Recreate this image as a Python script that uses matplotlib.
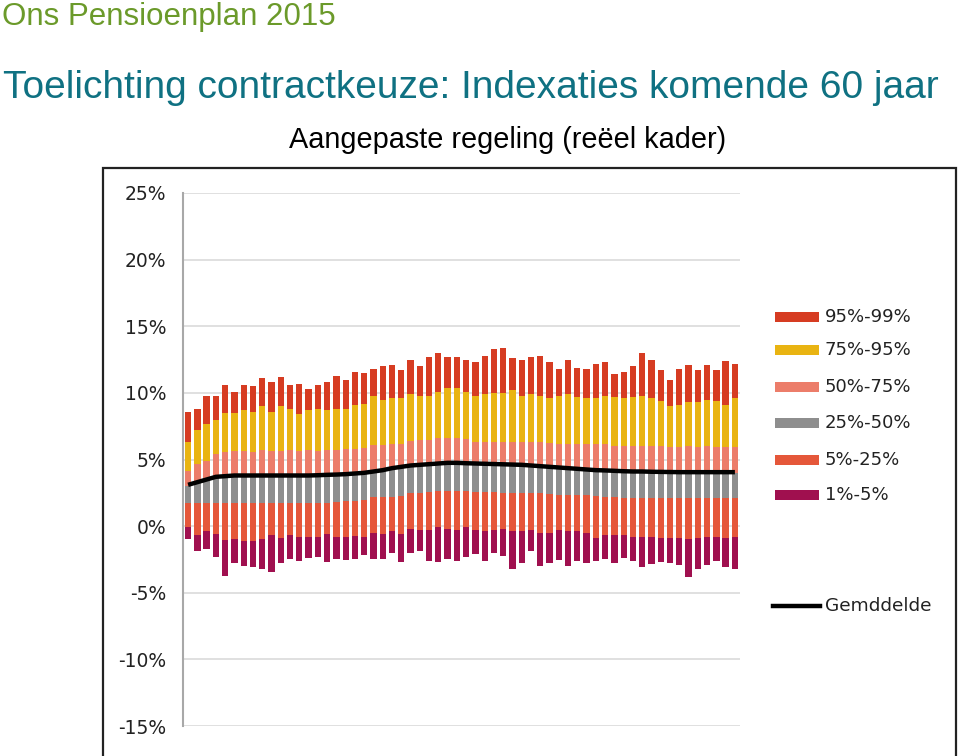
import numpy as np
import matplotlib
matplotlib.use("Agg")
import matplotlib.pyplot as plt
from matplotlib.patches import Rectangle
from matplotlib.lines import Line2D

# ---- data (percent), 60 years ----
years = list(range(1, 61))
p99 = [8.6, 8.8, 9.8, 9.8, 10.6, 10.1, 10.6, 10.5, 11.1, 10.8,
       11.2, 10.6, 10.7, 10.3, 10.6, 10.8, 11.3, 11.0, 11.6, 11.5,
       11.8, 12.0, 12.1, 11.7, 12.5, 12.0, 12.7, 13.0, 12.7, 12.7,
       12.5, 12.3, 12.8, 13.3, 13.4, 12.6, 12.5, 12.7, 12.8, 12.3,
       11.8, 12.5, 11.9, 11.8, 12.2, 12.3, 11.4, 11.6, 12.0, 13.0,
       12.5, 11.7, 11.0, 11.8, 12.1, 11.7, 12.1, 11.7, 12.4, 12.2]
p95 = [6.3, 7.2, 7.7, 8.0, 8.5, 8.5, 8.7, 8.6, 9.0, 8.6,
       9.0, 8.8, 8.4, 8.7, 8.8, 8.7, 8.8, 8.8, 9.1, 9.2,
       9.8, 9.5, 9.6, 9.6, 9.9, 9.8, 9.8, 10.1, 10.4, 10.4,
       10.1, 9.8, 9.9, 10.0, 10.0, 10.2, 9.8, 9.9, 9.8, 9.6,
       9.8, 9.9, 9.7, 9.6, 9.6, 9.8, 9.7, 9.6, 9.7, 9.8,
       9.6, 9.4, 9.0, 9.1, 9.3, 9.3, 9.5, 9.4, 9.1, 9.6]
p75 = [4.15, 4.65, 4.9, 5.4, 5.6, 5.65, 5.65, 5.6, 5.7, 5.65,
       5.65, 5.7, 5.65, 5.7, 5.65, 5.7, 5.7, 5.8, 5.8, 5.85,
       6.1, 6.1, 6.15, 6.15, 6.4, 6.45, 6.45, 6.6, 6.6, 6.6,
       6.55, 6.3, 6.3, 6.3, 6.3, 6.3, 6.3, 6.3, 6.3, 6.25,
       6.2, 6.2, 6.2, 6.2, 6.2, 6.15, 6.0, 6.0, 6.0, 6.0,
       6.0, 6.0, 5.95, 5.95, 6.0, 5.95, 6.0, 5.95, 5.95, 5.95]
p50 = [3.0, 3.2, 3.4, 3.6, 3.65, 3.7, 3.7, 3.7, 3.7, 3.7,
       3.7, 3.7, 3.7, 3.7, 3.7, 3.7, 3.75, 3.8, 3.85, 3.9,
       4.0, 4.1, 4.25, 4.35, 4.45, 4.5, 4.55, 4.6, 4.65, 4.65,
       4.6, 4.55, 4.55, 4.5, 4.5, 4.5, 4.45, 4.45, 4.4, 4.35,
       4.3, 4.25, 4.2, 4.15, 4.1, 4.1, 4.05, 4.05, 4.0, 4.0,
       3.95, 3.95, 3.95, 3.95, 3.95, 3.95, 3.95, 3.95, 3.95, 3.95]
p25 = [1.7, 1.7, 1.7, 1.7, 1.7, 1.7, 1.7, 1.7, 1.7, 1.7,
       1.7, 1.7, 1.7, 1.7, 1.7, 1.75, 1.8, 1.9, 1.9, 1.95,
       2.2, 2.2, 2.2, 2.25, 2.5, 2.5, 2.55, 2.6, 2.6, 2.6,
       2.6, 2.55, 2.55, 2.55, 2.5, 2.5, 2.5, 2.5, 2.45, 2.4,
       2.35, 2.3, 2.3, 2.3, 2.25, 2.2, 2.2, 2.1, 2.1, 2.1,
       2.1, 2.1, 2.1, 2.1, 2.1, 2.1, 2.1, 2.1, 2.1, 2.1]
p5 = [-0.05, -0.7, -0.4, -0.6, -1.05, -1.0, -1.1, -1.1, -1.0, -0.7,
      -0.9, -0.7, -0.8, -0.8, -0.8, -0.6, -0.85, -0.8, -0.75, -0.8,
      -0.5, -0.6, -0.4, -0.6, -0.2, -0.3, -0.3, -0.1, -0.2, -0.3,
      -0.1, -0.3, -0.4, -0.3, -0.2, -0.4, -0.4, -0.3, -0.5, -0.55,
      -0.3, -0.4, -0.4, -0.5, -0.9, -0.65, -0.65, -0.65, -0.8, -0.85,
      -0.85, -0.9, -0.9, -0.9, -1.0, -0.9, -0.8, -0.8, -0.9, -0.85]
p1 = [-1.0, -1.85, -1.7, -2.35, -3.75, -2.75, -3.0, -3.05, -3.2, -3.45,
      -2.75, -2.5, -2.6, -2.4, -2.35, -2.7, -2.5, -2.55, -2.5, -2.2,
      -2.5, -2.45, -2.05, -2.7, -2.05, -1.9, -2.6, -2.7, -2.5, -2.6,
      -2.3, -2.1, -2.6, -2.0, -2.25, -3.2, -2.8, -1.85, -3.0, -2.8,
      -2.55, -3.0, -2.6, -2.8, -2.65, -2.45, -2.75, -2.4, -2.65, -3.1,
      -2.85, -2.7, -2.8, -2.9, -3.8, -3.2, -2.9, -2.6, -3.05, -3.25]
mean = [3.1, 3.3, 3.5, 3.7, 3.75, 3.8, 3.8, 3.8, 3.8, 3.8,
        3.8, 3.8, 3.8, 3.8, 3.82, 3.85, 3.87, 3.9, 3.95, 4.0,
        4.1, 4.2, 4.35, 4.45, 4.55, 4.6, 4.65, 4.7, 4.75, 4.75,
        4.72, 4.7, 4.68, 4.66, 4.64, 4.62, 4.6, 4.55, 4.5, 4.45,
        4.4, 4.35, 4.3, 4.25, 4.2, 4.18, 4.15, 4.12, 4.1, 4.1,
        4.08, 4.07, 4.06, 4.05, 4.05, 4.05, 4.05, 4.05, 4.05, 4.05]

band_labels = ["95%-99%", "75%-95%", "50%-75%", "25%-50%", "5%-25%", "1%-5%"]
mean_label = "Gemddelde"
yticks = [25, 20, 15, 10, 5, 0, -5, -10, -15]

colors = ["#D63C22", "#E9B412", "#EC7D6A", "#8E8E8E", "#E5573A", "#A0104F"]

W, H = 960, 756
fig = plt.figure(figsize=(W / 100, H / 100), dpi=100)
fig.patch.set_facecolor("white")

def fx(px):
    return px / W

def fy(py):
    return 1 - py / H

# titles
fig.text(fx(2), fy(17), "Ons Pensioenplan 2015", fontsize=22.5, color="#6B9A2A",
         family="Liberation Sans", va="center", ha="left")
fig.text(fx(3), fy(88), "Toelichting contractkeuze: Indexaties komende 60 jaar",
         fontsize=28.0, color="#0F7182", family="Liberation Sans", va="center", ha="left")
fig.text(fx(508), fy(140), "Aangepaste regeling (reëel kader)", fontsize=20.8,
         color="black", family="Liberation Sans", va="center", ha="center")

# chart frame
fig.add_artist(Rectangle((fx(103), fy(760)), fx(956) - fx(103), fy(168) - fy(760),
                         transform=fig.transFigure, fill=False, edgecolor="#222222",
                         linewidth=1.6))

ax = fig.add_axes([fx(183), fy(726), fx(740) - fx(183), fy(193) - fy(726)])
x = np.arange(len(years))
p99a, p95a, p75a, p50a, p25a, p5a, p1a = map(np.array, (p99, p95, p75, p50, p25, p5, p1))
bounds = [(p95a, p99a), (p75a, p95a), (p50a, p75a), (p25a, p50a), (p5a, p25a), (p1a, p5a)]
bw = 0.68
for (lo, hi), c in zip(bounds, colors):
    ax.bar(x, hi - lo, bottom=lo, width=bw, color=c, linewidth=0, zorder=3)
ax.plot(x, mean, color="black", linewidth=3.2, zorder=5, solid_capstyle="butt")

ax.set_xlim(-0.55, len(years) - 0.45)
ax.set_ylim(-15, 25)
ax.set_yticks(yticks)
ax.set_yticklabels([f"{t}%" for t in yticks], family="DejaVu Sans", fontsize=13.5,
                   color="#222222")
ax.set_xticks([])
ax.grid(axis="y", color="#DADADA", linewidth=1.2, zorder=0)
for s in ["top", "right", "bottom"]:
    ax.spines[s].set_visible(False)
ax.spines["left"].set_color("#A8A8A8")
ax.spines["left"].set_linewidth(1.5)
ax.tick_params(axis="y", length=0, pad=12)

# legend
rows = [317, 350, 387, 423, 460, 495]
for lab, c, ry in zip(band_labels, colors, rows):
    fig.add_artist(Rectangle((fx(775), fy(ry + 5)), fx(819) - fx(775), fy(ry - 5) - fy(ry + 5),
                             transform=fig.transFigure, facecolor=c, edgecolor="none"))
    fig.text(fx(825), fy(ry), lab, fontsize=13, family="DejaVu Sans", color="#222222",
             va="center", ha="left")
fig.add_artist(Line2D([fx(773), fx(820)], [fy(606), fy(606)], transform=fig.transFigure,
                      color="black", linewidth=3.2))
fig.text(fx(825), fy(606), mean_label, fontsize=13.3, family="DejaVu Sans", color="#222222",
         va="center", ha="left")

fig.savefig("out.png", dpi=100, facecolor="white")
